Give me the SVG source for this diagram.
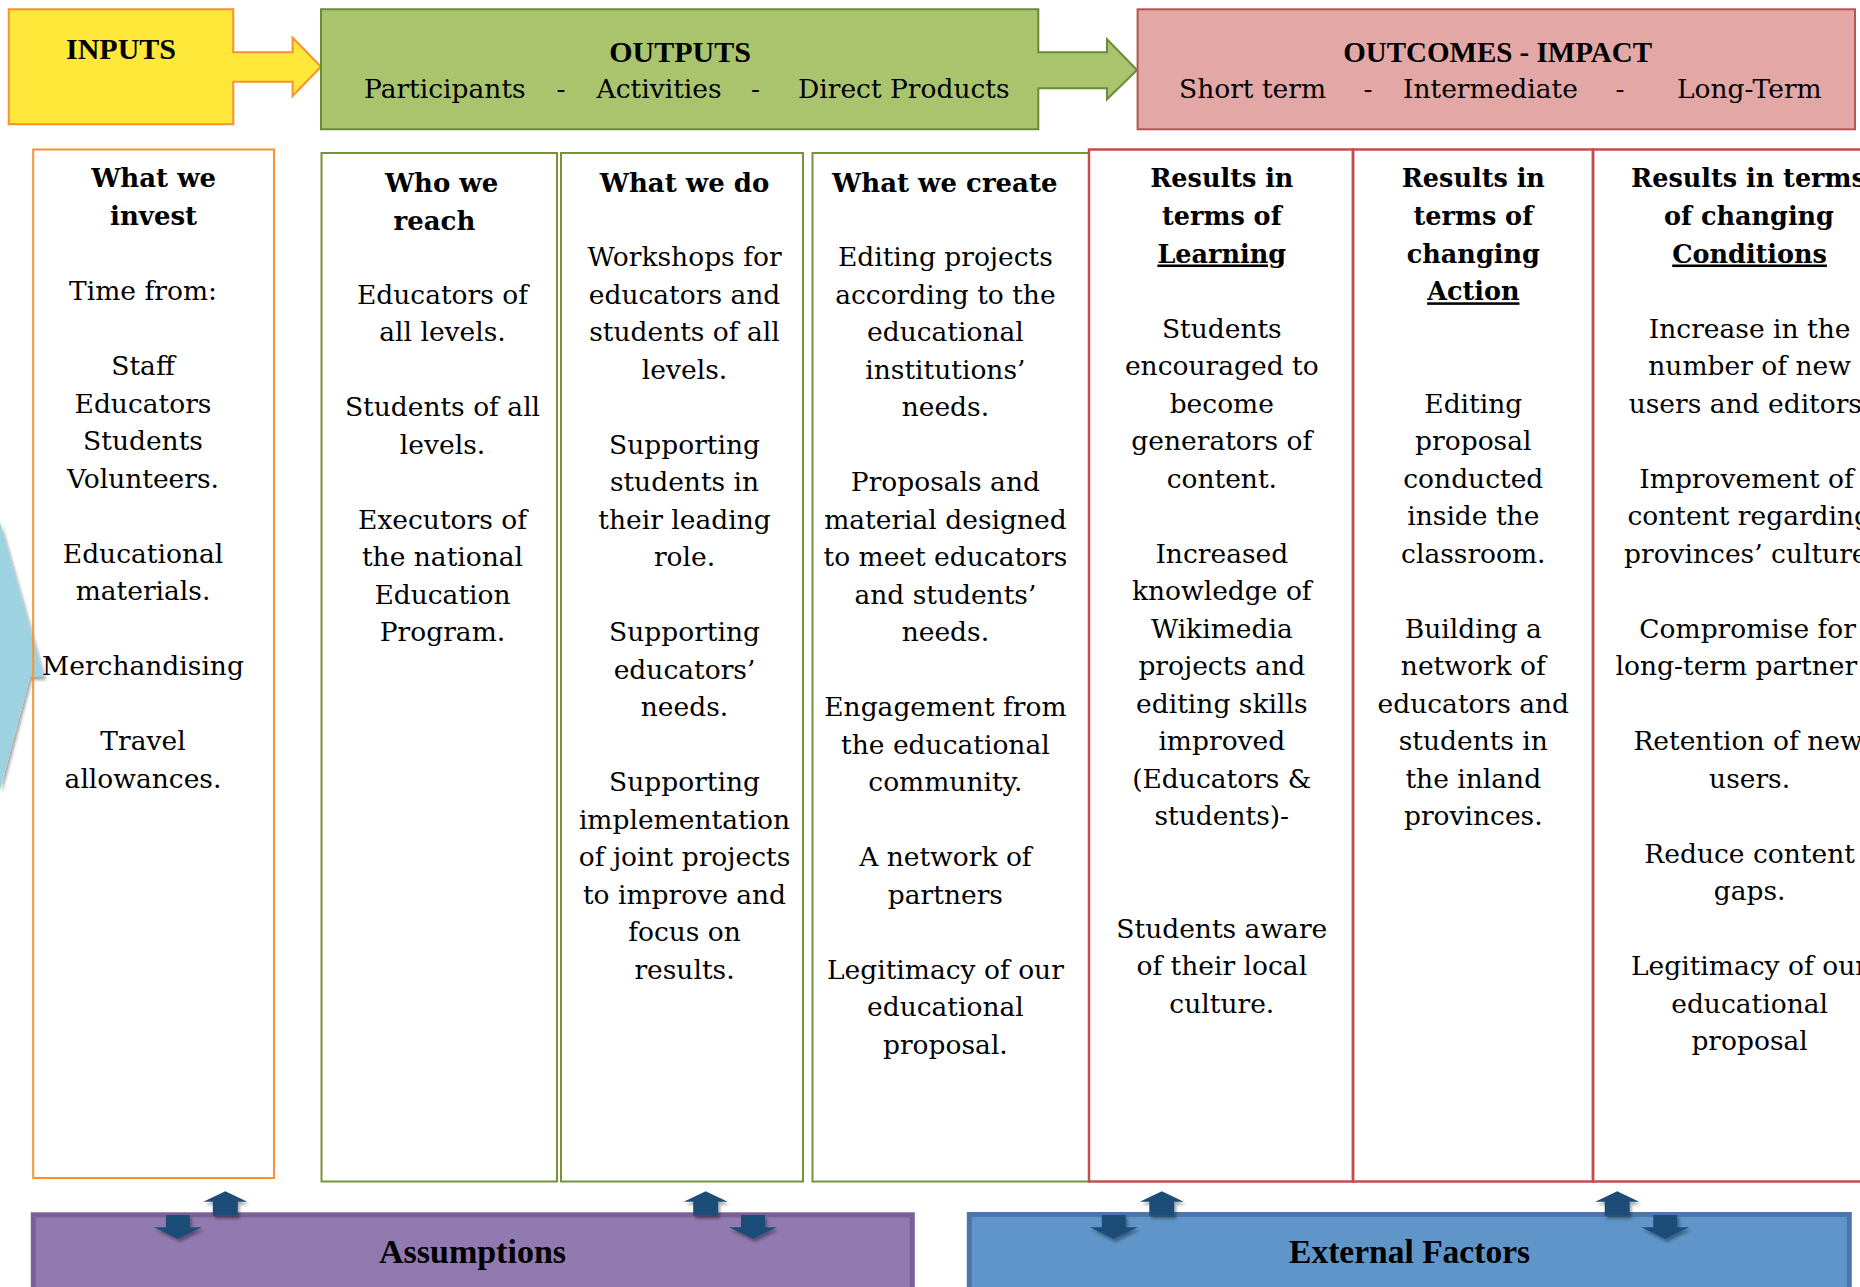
<svg xmlns="http://www.w3.org/2000/svg" xmlns:xlink="http://www.w3.org/1999/xlink" width="1860" height="1287" viewBox="0 0 1860 1287">
<style>
.b{font-family:"DejaVu Serif","Liberation Serif",serif;font-size:26.5px;fill:#000;text-anchor:middle}
.bs{font-family:"DejaVu Serif","Liberation Serif",serif;font-size:26.5px;fill:#000;text-anchor:start}
.h{font-family:"DejaVu Serif","Liberation Serif",serif;font-weight:bold;font-size:26px;fill:#000;text-anchor:middle}
.hs{font-family:"DejaVu Serif","Liberation Serif",serif;font-weight:bold;font-size:25.5px;fill:#000;text-anchor:start}
.u{text-decoration:underline}
.t{font-family:"Liberation Serif",serif;font-weight:bold;font-size:30px;fill:#000;text-anchor:middle}
.ft{font-family:"Liberation Serif",serif;font-weight:bold;font-size:34px;fill:#000;text-anchor:middle}
.cg{fill:none;stroke:#76923C;stroke-width:2}
.cr{fill:none;stroke:#C0504D;stroke-width:2.5}
.arr{fill:#1F4E79}
</style>
<defs>
<filter id="sh" x="-30%" y="-30%" width="160%" height="160%">
<feDropShadow dx="2" dy="3" stdDeviation="1.5" flood-color="#000" flood-opacity="0.35"/>
</filter>
<polygon id="upArrow" class="arr" points="0,0 22,10.4 12.5,10.4 12.5,24.4 -12.5,24.4 -12.5,10.4 -22,10.4"/>
<polygon id="downArrow" class="arr" points="-12,0 12,0 12,12.3 24,12.3 0,24 -24,12.3 -12,12.3"/>
</defs>
<rect width="1860" height="1287" fill="#fff"/>

<!-- decorative light blue shape at left edge -->
<polygon points="0,522 44,677 30,677 0,790" fill="#9DD3E1" filter="url(#sh)"/>

<!-- top row -->
<g id="inputs">
<polygon points="8.7,9.3 233.3,9.3 233.3,52.3 292.6,52.3 292.6,37.7 321,66.7 292.6,96 292.6,81.7 233.3,81.7 233.3,124.3 8.7,124.3" fill="#FFE83A" stroke="#F9912E" stroke-width="2"/>
<text class="t" x="121" y="59">INPUTS</text>
</g>
<g id="outputs">
<polygon points="321,9.3 1038.3,9.3 1038.3,52.3 1107,52.3 1107,39.3 1137,70 1107,99.3 1107,88.3 1038.3,88.3 1038.3,129.3 321,129.3" fill="#AAC46E" stroke="#6B8A3A" stroke-width="2"/>
<text class="t" x="680" y="62">OUTPUTS</text>
<text class="bs" x="364" y="98">Participants</text>
<text class="b" x="561" y="98">-</text>
<text class="bs" x="596.6" y="98">Activities</text>
<text class="b" x="755.6" y="98">-</text>
<text class="bs" x="798" y="98">Direct Products</text>
</g>
<g id="outcomes">
<rect x="1137.6" y="9.3" width="717.4" height="120" fill="#E3A7A6" stroke="#B85450" stroke-width="2"/>
<text class="t" x="1497.6" y="62" style="font-size:29px">OUTCOMES - IMPACT</text>
<text class="bs" x="1179" y="98">Short term</text>
<text class="b" x="1368" y="98">-</text>
<text class="bs" x="1403" y="98">Intermediate</text>
<text class="b" x="1620" y="98">-</text>
<text class="bs" x="1677" y="98">Long-Term</text>
</g>

<!-- column 1 -->
<g id="col-invest">
<rect x="33.2" y="149.5" width="240.8" height="1028.5" fill="none" stroke="#F9912E" stroke-width="2"/>
<text class="h" x="153.6" y="187">What we</text>
<text class="h" x="153.6" y="224.9">invest</text>
<text class="b" x="143" y="300.1">Time from:</text>
<text class="b" x="143" y="375.1">Staff</text>
<text class="b" x="143" y="412.6">Educators</text>
<text class="b" x="143" y="450.1">Students</text>
<text class="b" x="143" y="487.6">Volunteers.</text>
<text class="b" x="143" y="562.6">Educational</text>
<text class="b" x="143" y="600.1">materials.</text>
<text class="b" x="143" y="675.1">Merchandising</text>
<text class="b" x="143" y="750.1">Travel</text>
<text class="b" x="143" y="787.6">allowances.</text>
</g>

<!-- column 2 -->
<g id="col-reach">
<rect x="321.5" y="153" width="235.5" height="1028.5" class="cg"/>
<text class="h" x="441.6" y="191.7">Who we</text>
<text class="h" x="434.4" y="229.6">reach</text>
<text class="b" x="442.5" y="303.6">Educators of</text>
<text class="b" x="442.5" y="341.1">all levels.</text>
<text class="b" x="442.5" y="416.1">Students of all</text>
<text class="b" x="442.5" y="453.6">levels.</text>
<text class="b" x="442.5" y="528.6">Executors of</text>
<text class="b" x="442.5" y="566.1">the national</text>
<text class="b" x="442.5" y="603.6">Education</text>
<text class="b" x="442.5" y="641.1">Program.</text>
</g>

<!-- column 3 -->
<g id="col-do">
<rect x="561" y="153" width="242" height="1028.5" class="cg"/>
<text class="h" x="684.5" y="191.7">What we do</text>
<text class="b" x="684.5" y="266.1">Workshops for</text>
<text class="b" x="684.5" y="303.6">educators and</text>
<text class="b" x="684.5" y="341.1">students of all</text>
<text class="b" x="684.5" y="378.6">levels.</text>
<text class="b" x="684.5" y="453.6">Supporting</text>
<text class="b" x="684.5" y="491.1">students in</text>
<text class="b" x="684.5" y="528.6">their leading</text>
<text class="b" x="684.5" y="566.1">role.</text>
<text class="b" x="684.5" y="641.1">Supporting</text>
<text class="b" x="684.5" y="678.6">educators’</text>
<text class="b" x="684.5" y="716.1">needs.</text>
<text class="b" x="684.5" y="791.1">Supporting</text>
<text class="b" x="684.5" y="828.6">implementation</text>
<text class="b" x="684.5" y="866.1">of joint projects</text>
<text class="b" x="684.5" y="903.6">to improve and</text>
<text class="b" x="684.5" y="941.1">focus on</text>
<text class="b" x="684.5" y="978.6">results.</text>
</g>

<!-- column 4 -->
<g id="col-create">
<rect x="812.5" y="153" width="276.5" height="1028.5" class="cg"/>
<text class="h" x="944.8" y="191.7">What we create</text>
<text class="b" x="945.4" y="266.1">Editing projects</text>
<text class="b" x="945.4" y="303.6">according to the</text>
<text class="b" x="945.4" y="341.1">educational</text>
<text class="b" x="945.4" y="378.6">institutions’</text>
<text class="b" x="945.4" y="416.1">needs.</text>
<text class="b" x="945.4" y="491.1">Proposals and</text>
<text class="b" x="945.4" y="528.6">material designed</text>
<text class="b" x="945.4" y="566.1">to meet educators</text>
<text class="b" x="945.4" y="603.6">and students’</text>
<text class="b" x="945.4" y="641.1">needs.</text>
<text class="b" x="945.4" y="716.1">Engagement from</text>
<text class="b" x="945.4" y="753.6">the educational</text>
<text class="b" x="945.4" y="791.1">community.</text>
<text class="b" x="945.4" y="866.1">A network of</text>
<text class="b" x="945.4" y="903.6">partners</text>
<text class="b" x="945.4" y="978.6">Legitimacy of our</text>
<text class="b" x="945.4" y="1016.1">educational</text>
<text class="b" x="945.4" y="1053.6">proposal.</text>
</g>

<!-- column 5 -->
<g id="col-learning">
<rect x="1089" y="149.5" width="264" height="1032" class="cr"/>
<text class="h" x="1221.8" y="186.9" style="font-size:25.5px">Results in</text>
<text class="h" x="1221.8" y="224.7" style="font-size:25.5px">terms of</text>
<text class="h u" x="1221.8" y="262.5" style="font-size:25.5px">Learning</text>
<text class="b" x="1221.8" y="337.6">Students</text>
<text class="b" x="1221.8" y="375.1">encouraged to</text>
<text class="b" x="1221.8" y="412.6">become</text>
<text class="b" x="1221.8" y="450.1">generators of</text>
<text class="b" x="1221.8" y="487.6">content.</text>
<text class="b" x="1221.8" y="562.6">Increased</text>
<text class="b" x="1221.8" y="600.1">knowledge of</text>
<text class="b" x="1221.8" y="637.6">Wikimedia</text>
<text class="b" x="1221.8" y="675.1">projects and</text>
<text class="b" x="1221.8" y="712.6">editing skills</text>
<text class="b" x="1221.8" y="750.1">improved</text>
<text class="b" x="1221.8" y="787.6">(Educators &amp;</text>
<text class="b" x="1221.8" y="825.1">students)-</text>
<text class="b" x="1221.8" y="937.6">Students aware</text>
<text class="b" x="1221.8" y="975.1">of their local</text>
<text class="b" x="1221.8" y="1012.6">culture.</text>
</g>

<!-- column 6 -->
<g id="col-action">
<rect x="1353" y="149.5" width="240" height="1032" class="cr"/>
<text class="h" x="1473.3" y="186.9" style="font-size:25.5px">Results in</text>
<text class="h" x="1473.3" y="224.7" style="font-size:25.5px">terms of</text>
<text class="h" x="1473.3" y="262.5" style="font-size:25.5px">changing</text>
<text class="h u" x="1473.3" y="300.3" style="font-size:25.5px">Action</text>
<text class="b" x="1473.3" y="412.6">Editing</text>
<text class="b" x="1473.3" y="450.1">proposal</text>
<text class="b" x="1473.3" y="487.6">conducted</text>
<text class="b" x="1473.3" y="525.1">inside the</text>
<text class="b" x="1473.3" y="562.6">classroom.</text>
<text class="b" x="1473.3" y="637.6">Building a</text>
<text class="b" x="1473.3" y="675.1">network of</text>
<text class="b" x="1473.3" y="712.6">educators and</text>
<text class="b" x="1473.3" y="750.1">students in</text>
<text class="b" x="1473.3" y="787.6">the inland</text>
<text class="b" x="1473.3" y="825.1">provinces.</text>
</g>

<!-- column 7 -->
<g id="col-conditions">
<rect x="1593" y="149.5" width="280" height="1032" class="cr"/>
<text class="hs" x="1631" y="186.9">Results in terms</text>
<text class="h" x="1749" y="224.7" style="font-size:25.5px">of changing</text>
<text class="h u" x="1749.6" y="262.5" style="font-size:25.5px">Conditions</text>
<text class="b" x="1749.6" y="337.6">Increase in the</text>
<text class="b" x="1749.6" y="375.1">number of new</text>
<text class="bs" x="1628.7" y="412.6">users and editors</text>
<text class="bs" x="1639.3" y="487.6">Improvement of</text>
<text class="bs" x="1627.5" y="525.1">content regarding</text>
<text class="bs" x="1624" y="562.6">provinces’ culture</text>
<text class="bs" x="1639.3" y="637.6">Compromise for</text>
<text class="bs" x="1615.6" y="675.1">long-term partner</text>
<text class="bs" x="1633.4" y="750.1">Retention of new</text>
<text class="b" x="1749.6" y="787.6">users.</text>
<text class="b" x="1749.6" y="862.6">Reduce content</text>
<text class="b" x="1749.6" y="900.1">gaps.</text>
<text class="bs" x="1631" y="975.1">Legitimacy of our</text>
<text class="b" x="1749.6" y="1012.6">educational</text>
<text class="b" x="1749.6" y="1050.1">proposal</text>
</g>

<!-- bottom row -->
<g id="assumptions">
<rect x="33.3" y="1214.8" width="879" height="80" fill="#917AAF" stroke="#7A6096" stroke-width="5"/>
<text class="ft" x="472.5" y="1263">Assumptions</text>
</g>
<g id="external-factors">
<rect x="969.3" y="1214.5" width="880" height="80" fill="#5F95C8" stroke="#4C76A8" stroke-width="5"/>
<text class="ft" x="1409.6" y="1263" style="font-size:33.5px">External Factors</text>
</g>

<!-- connectors -->
<g id="connectors" filter="url(#sh)">
<use xlink:href="#upArrow" x="225.3" y="1191.3"/>
<use xlink:href="#downArrow" x="177.9" y="1215"/>
<use xlink:href="#upArrow" x="705.7" y="1191.3"/>
<use xlink:href="#downArrow" x="753" y="1215"/>
<use xlink:href="#upArrow" x="1161.8" y="1191.3"/>
<use xlink:href="#downArrow" x="1113.8" y="1215"/>
<use xlink:href="#upArrow" x="1617.2" y="1191.3"/>
<use xlink:href="#downArrow" x="1665.3" y="1215"/>
</g>
</svg>
